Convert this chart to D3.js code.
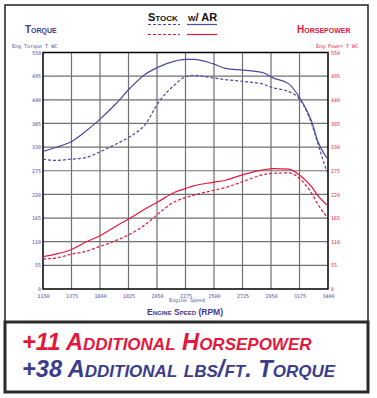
<!DOCTYPE html>
<html>
<head>
<meta charset="utf-8">
<script src="https://cdn.jsdelivr.net/npm/d3@7"></script>
<style>
  body { margin: 0; background: #fff; }
  svg { display: block; font-family: "Liberation Sans", Arial, sans-serif; }
  .sc { font-variant: small-caps; font-weight: bold; }
  .tiny { font-family: "DejaVu Sans Mono", monospace; font-size: 5px; }
</style>
</head>
<body>
<div id="chart"></div>
<script>
// Chart data
const rpm = [1150, 1250, 1375, 1480, 1600, 1720, 1840, 1955, 2060, 2190, 2270, 2340, 2490, 2590, 2730, 2890, 2965, 3090, 3180, 3270, 3320, 3390];
const torqueAR = [320, 329, 343, 365, 395, 429, 468, 499, 516, 530, 534, 534, 524, 513, 509, 503, 491, 477, 443, 390, 343, 305];
const torqueStock = [302, 299, 302, 305, 319, 336, 355, 382, 433, 475, 493, 497, 491, 487, 483, 476, 468, 459, 440, 385, 338, 273];
const hpAR = [75, 81, 92, 108, 124, 145, 165, 186, 203, 225, 233, 240, 248, 253, 266, 277, 280, 279, 264, 238, 217, 196];
const hpStock = [70, 72, 81, 87, 99, 112, 128, 149, 175, 203, 212, 218, 229, 236, 250, 266, 269, 270, 256, 223, 197, 168];

const xTicks = [1150, 1375, 1600, 1825, 2050, 2275, 2500, 2725, 2950, 3175, 3400];
const yTicks = [0, 55, 110, 165, 220, 275, 330, 385, 440, 495, 550];

const blue = "#4a4a9e";
const red = "#e4183c";
const titleBlue = "#3c3c8e";

const width = 377;
const height = 398;
const plot = { left: 43, right: 328, top: 52.5, bottom: 289 };

const svg = d3.select("#chart")
  .append("svg")
  .attr("width", width)
  .attr("height", height);

const x = d3.scaleLinear().domain([1150, 3400]).range([plot.left, plot.right]);
const y = d3.scaleLinear().domain([0, 550]).range([plot.bottom, plot.top]);

// Outer frame of the chart panel
svg.append("path")
  .attr("d", `M5,321 V5 H368 V321`)
  .attr("fill", "none")
  .attr("stroke", "#222")
  .attr("stroke-width", 1.5);

// Grid lines
svg.append("g")
  .selectAll("line.v")
  .data(xTicks.slice(1, -1))
  .enter()
  .append("line")
  .attr("x1", (d) => x(d))
  .attr("x2", (d) => x(d))
  .attr("y1", plot.top)
  .attr("y2", plot.bottom)
  .attr("stroke", "#707070")
  .attr("stroke-width", 1.2);

svg.append("g")
  .selectAll("line.h")
  .data(yTicks.slice(1, -1))
  .enter()
  .append("line")
  .attr("x1", plot.left)
  .attr("x2", plot.right)
  .attr("y1", (d) => y(d))
  .attr("y2", (d) => y(d))
  .attr("stroke", "#707070")
  .attr("stroke-width", 1.2);

svg.append("rect")
  .attr("x", plot.left)
  .attr("y", plot.top)
  .attr("width", plot.right - plot.left)
  .attr("height", plot.bottom - plot.top)
  .attr("fill", "none")
  .attr("stroke", "#000")
  .attr("stroke-width", 1.5);

// Axes (labels only, the frame is drawn above)
const leftAxis = svg.append("g")
  .attr("transform", `translate(${plot.left},0)`)
  .call(d3.axisLeft(y).tickValues(yTicks).tickSize(0).tickPadding(2));
leftAxis.select(".domain").remove();
leftAxis.selectAll("text").attr("class", "tiny").attr("fill", blue);

const rightAxis = svg.append("g")
  .attr("transform", `translate(${plot.right},0)`)
  .call(d3.axisRight(y).tickValues(yTicks).tickSize(0).tickPadding(3));
rightAxis.select(".domain").remove();
rightAxis.selectAll("text").attr("class", "tiny").attr("fill", red);

const bottomAxis = svg.append("g")
  .attr("transform", `translate(0,${plot.bottom})`)
  .call(d3.axisBottom(x).tickValues(xTicks).tickSize(0).tickPadding(5).tickFormat(d3.format("d")));
bottomAxis.select(".domain").remove();
bottomAxis.selectAll("text").attr("class", "tiny").attr("fill", blue);

// Curves
const line = (vals) => d3.line()
  .x((d, i) => x(rpm[i]))
  .y((d) => y(d))
  .curve(d3.curveMonotoneX)(vals);

const series = [
  { vals: torqueStock, color: blue, dash: "3,2" },
  { vals: torqueAR, color: blue, dash: null },
  { vals: hpStock, color: red, dash: "3,2" },
  { vals: hpAR, color: red, dash: null },
];

svg.append("g")
  .selectAll("path")
  .data(series)
  .enter()
  .append("path")
  .attr("d", (d) => line(d.vals))
  .attr("fill", "none")
  .attr("stroke", (d) => d.color)
  .attr("stroke-width", 1.2)
  .attr("stroke-dasharray", (d) => d.dash);

// Legend header
svg.append("text").attr("class", "sc").attr("x", 148).attr("y", 21)
  .attr("font-size", 11).attr("fill", "#111").text("Stock");
svg.append("text").attr("class", "sc").attr("x", 188).attr("y", 21)
  .attr("font-size", 11).attr("fill", "#111").text("w/ AR");

const legendLines = [
  { x1: 148, x2: 180, y: 24.5, color: blue, dash: "3,2" },
  { x1: 148, x2: 180, y: 34.5, color: red, dash: "3,2" },
  { x1: 187, x2: 217, y: 24.5, color: blue, dash: null },
  { x1: 187, x2: 217, y: 34.5, color: red, dash: null },
];
svg.append("g")
  .selectAll("line")
  .data(legendLines)
  .enter()
  .append("line")
  .attr("x1", (d) => d.x1)
  .attr("x2", (d) => d.x2)
  .attr("y1", (d) => d.y)
  .attr("y2", (d) => d.y)
  .attr("stroke", (d) => d.color)
  .attr("stroke-width", 1.2)
  .attr("stroke-dasharray", (d) => d.dash);

// Side titles
svg.append("text").attr("class", "sc").attr("x", 25).attr("y", 33)
  .attr("font-size", 10).attr("fill", titleBlue).text("Torque");
svg.append("text").attr("class", "sc").attr("x", 297).attr("y", 33)
  .attr("font-size", 10).attr("fill", red).text("Horsepower");

svg.append("text").attr("class", "tiny").attr("x", 12).attr("y", 48)
  .attr("fill", blue).text("Eng Torque T WC");
svg.append("text").attr("class", "tiny").attr("x", 316).attr("y", 48)
  .attr("fill", red).text("Eng Power T WC");

// X axis titles
svg.append("text").attr("class", "tiny").attr("x", 187).attr("y", 302)
  .attr("text-anchor", "middle").attr("fill", blue).text("Engine Speed");
svg.append("text").attr("class", "sc").attr("x", 185).attr("y", 315)
  .attr("text-anchor", "middle").attr("font-size", 8.5).attr("fill", titleBlue).text("Engine Speed (RPM)");

// Gains box
svg.append("rect")
  .attr("x", 5).attr("y", 322)
  .attr("width", 363).attr("height", 70)
  .attr("fill", "#fff")
  .attr("stroke", "#2a2a2a")
  .attr("stroke-width", 3);

svg.append("text").attr("class", "sc").attr("x", 22).attr("y", 349.5)
  .attr("font-size", 23.6).attr("font-style", "italic").attr("fill", red)
  .text("+11 Additional Horsepower");
svg.append("text").attr("class", "sc").attr("x", 22).attr("y", 376.5)
  .attr("font-size", 23.6).attr("font-style", "italic").attr("fill", titleBlue)
  .text("+38 Additional lbs/ft. Torque");
</script>
</body>
</html>
